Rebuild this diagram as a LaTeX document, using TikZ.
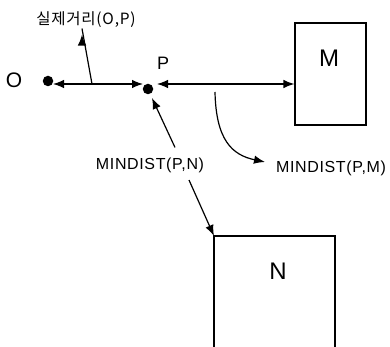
\documentclass[tikz,border=0pt]{standalone}
\usepackage{fontspec}
\setmainfont{Liberation Sans}
\newfontfamily\krfont{Noto Sans CJK KR}
\usetikzlibrary{arrows.meta}
\begin{document}
\begin{tikzpicture}[x=1pt,y=-1pt,
  line width=1.2pt,
  tip/.style={-{Latex[length=11pt,width=8.5pt]}},
  dtip/.style={{Latex[length=11pt,width=8.5pt]}-{Latex[length=11pt,width=8.5pt]}},
  dot/.style={circle,fill=black,inner sep=0pt,minimum size=10.5pt},
  big/.style={inner sep=0pt,font=\fontsize{24}{24}\selectfont},
  lbl/.style={inner sep=0pt,font=\fontsize{16}{16}\selectfont\addfontfeatures{LetterSpace=4}},
  box/.style={draw,line width=1.1pt}]
\useasboundingbox (0,0) rectangle (390,347);
% points
\node[dot] (O) at (48,81) {};
\node[dot] (P) at (148,89) {};
\node[big,font=\fontsize{21}{21}\selectfont] (Olab) at (14,80) {O};
\node[big,font=\fontsize{18}{18}\selectfont] (Plab) at (163,63) {P};
% boxes
\node[box,minimum width=71pt,minimum height=102pt,inner sep=0pt] (M) at (330.5,74) {};
\node[big] (Mlab) at (329,58.5) {M};
\coordinate (Ntl) at (214,236);
\coordinate (Ntr) at (335,236);
\draw[line width=1.1pt] (214,347) -- (Ntl) -- (Ntr) -- (335,347);
\node[big] (Nlab) at (278,271) {N};
% labels
\node[inner sep=0pt,font=\krfont\fontsize{15.5}{15.5}\selectfont\addfontfeatures{LetterSpace=5}] (real) at (86,20) {실제거리(O,P)};
\node[lbl] (mpn) at (150,165.5) {MINDIST(P,N)};
\node[lbl] (mpm) at (331,168) {MINDIST(P,M)};
% connectors
\coordinate (a1) at (53,84);
\coordinate (a2) at (143,84);
\coordinate (a3) at (157,84);
\draw[dtip] (a1) -- (a2);
\draw[dtip] (a3) -- (M.west |- a3);
\coordinate (r0) at (92,84);
\draw[tip] (r0) -- (real.south -| 82,0) ++(0,6);
\coordinate (c0) at (215,92);
\draw[tip] (c0) .. controls (216,140) and (232,155) .. (265,162);
\draw[tip] (mpn.north -| 175,0) ++(0,-10) -- (152,98);
\coordinate (n0) at (189,180);
\draw[tip] (n0) -- (Ntl);
\end{tikzpicture}
\end{document}
